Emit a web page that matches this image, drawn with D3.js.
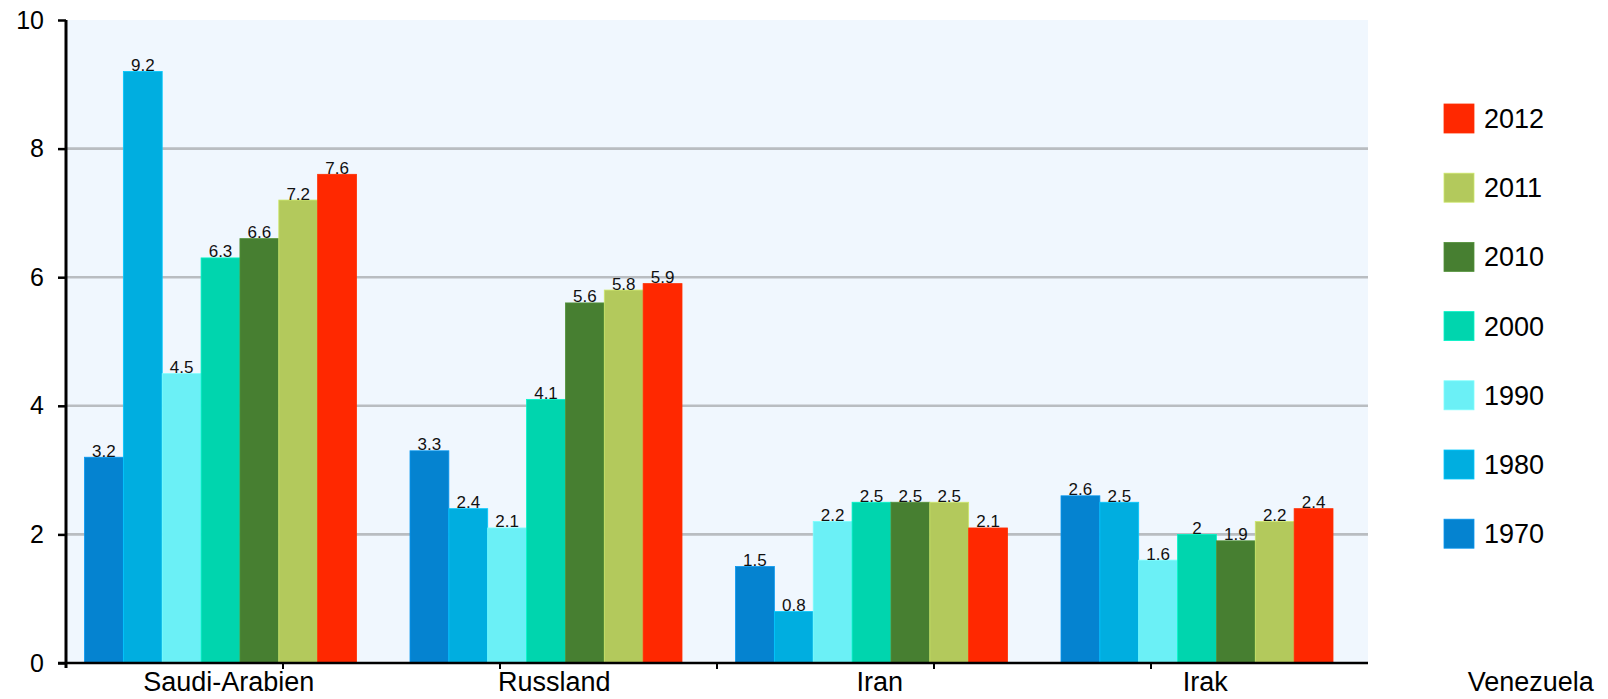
<!DOCTYPE html>
<html>
<head>
<meta charset="utf-8">
<script src="https://cdn.jsdelivr.net/npm/d3@7"></script>
<style>
  html, body { margin: 0; padding: 0; background: #ffffff; }
  svg { display: block; font-family: "Liberation Sans", Arial, sans-serif; }
</style>
</head>
<body>
<svg id="chart" width="1608" height="699"></svg>
<script>
// ---- data ----
const categories = ["Saudi-Arabien", "Russland", "Iran", "Irak", "Venezuela"];
const years = ["1970", "1980", "1990", "2000", "2010", "2011", "2012"];
const v1970 = [3.2, 3.3, 1.5, 2.6];
const v1980 = [9.2, 2.4, 0.8, 2.5];
const v1990 = [4.5, 2.1, 2.2, 1.6];
const v2000 = [6.3, 4.1, 2.5, 2.0];
const v2010 = [6.6, 5.6, 2.5, 1.9];
const v2011 = [7.2, 5.8, 2.5, 2.2];
const v2012 = [7.6, 5.9, 2.1, 2.4];
const yTicks = [0, 2, 4, 6, 8, 10];
const colors = ["#0583d0", "#00aee0", "#6bf0f6", "#00d5ae", "#477f31", "#b3c95c", "#ff2800"];

(function () {
const seriesValues = [v1970, v1980, v1990, v2000, v2010, v2011, v2012];
const series = years.map((yr, i) => ({ year: yr, values: seriesValues[i], color: colors[i] }));

// ---- layout ----
const svg = d3.select("#chart");
const mLeft = 66, mTop = 20, mBottom = 663;
const bandW = 325.5;
const plotW = bandW * 4;          // only 4 categories fit inside the plot area
const mRight = mLeft + plotW;

const x0 = d3.scaleBand().domain(categories).range([mLeft, mLeft + bandW * categories.length]).paddingInner(0).paddingOuter(0);
const x1 = d3.scaleBand().domain(years).range([18.5, 18.5 + 272]).padding(0);
const y = d3.scaleLinear().domain([0, 10]).range([mBottom, mTop]);

// plot background
svg.append("rect").attr("x", mLeft).attr("y", mTop).attr("width", plotW).attr("height", mBottom - mTop).attr("fill", "#f0f7fe");

// gridlines
svg.append("g").selectAll("line").data(yTicks.filter(d => d > 0 && d < 10)).join("line")
  .attr("x1", mLeft).attr("x2", mRight)
  .attr("y1", d => y(d)).attr("y2", d => y(d))
  .attr("stroke", "#b9bdc1").attr("stroke-width", 2.6);

// bars
svg.append("clipPath").attr("id", "plotclip").append("rect")
  .attr("x", mLeft).attr("y", 0).attr("width", plotW).attr("height", mBottom);

const gBars = svg.append("g").attr("clip-path", "url(#plotclip)");
series.forEach(s => {
  const data = s.values.map((v, i) => ({ cat: categories[i], v }));
  gBars.append("g").selectAll("rect").data(data).join("rect")
    .attr("x", d => x0(d.cat) + x1(s.year))
    .attr("width", x1.bandwidth())
    .attr("y", d => y(d.v))
    .attr("height", d => y(0) - y(d.v))
    .attr("fill", s.color)
    .attr("stroke", d3.color(s.color).brighter(0.4))
    .attr("stroke-width", 0.8);
});
series.forEach(s => {
  const data = s.values.map((v, i) => ({ cat: categories[i], v }));
  gBars.append("g").selectAll("text").data(data).join("text")
    .attr("x", d => x0(d.cat) + x1(s.year) + x1.bandwidth() / 2)
    .attr("y", d => y(d.v) - 0.5)
    .attr("text-anchor", "middle")
    .attr("font-size", 17)
    .attr("fill", "#111")
    .text(d => d.v);
});

// y axis
const yAxis = d3.axisLeft(y).tickValues(yTicks).tickSize(8).tickPadding(14).tickFormat(d3.format("d"));
const gy = svg.append("g").attr("transform", `translate(${mLeft},0)`).call(yAxis);
gy.select(".domain").remove();
gy.selectAll(".tick line").attr("stroke", "#000").attr("stroke-width", 2.5);
gy.selectAll(".tick text").attr("font-size", 25).attr("fill", "#000").attr("font-family", "Liberation Sans, Arial, sans-serif");
svg.append("line").attr("x1", mLeft).attr("x2", mLeft).attr("y1", mTop).attr("y2", mBottom + 5)
  .attr("stroke", "#000").attr("stroke-width", 3);

// x axis line
svg.append("line").attr("x1", mLeft - 8).attr("x2", mRight).attr("y1", mBottom).attr("y2", mBottom)
  .attr("stroke", "#000").attr("stroke-width", 2.5);
// x tick marks (every 2/3 of a category band)
const tickPos = d3.range(1, 6).map(k => mLeft + k * bandW * 2 / 3);
svg.append("g").selectAll("line").data(tickPos).join("line")
  .attr("x1", d => d).attr("x2", d => d).attr("y1", mBottom).attr("y2", mBottom + 6)
  .attr("stroke", "#000").attr("stroke-width", 2);

// category labels
svg.append("g").selectAll("text").data(categories).join("text")
  .attr("x", d => x0(d) + x0.bandwidth() / 2)
  .attr("y", 691)
  .attr("text-anchor", "middle")
  .attr("font-size", 27)
  .attr("fill", "#000")
  .text(d => d);

// legend
const legendItems = series.slice().reverse();
const lg = svg.append("g").selectAll("g").data(legendItems).join("g")
  .attr("transform", (d, i) => `translate(1444, ${104 + i * 69.2})`);
lg.append("rect").attr("width", 30).attr("height", 29).attr("fill", d => d.color)
  .attr("stroke", d => d3.color(d.color).brighter(0.4)).attr("stroke-width", 0.8);
lg.append("text").attr("x", 40).attr("y", 24).attr("font-size", 27).attr("fill", "#000").text(d => d.year);
})();
</script>
</body>
</html>
